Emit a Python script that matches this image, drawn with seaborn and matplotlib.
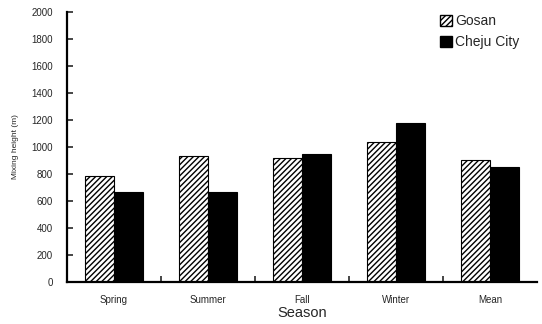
import matplotlib
matplotlib.use("Agg")
import matplotlib.pyplot as plt
import seaborn as sns
import pandas as pd
from matplotlib.patches import Patch

seasons = ["Spring", "Summer", "Fall", "Winter", "Mean"]
gosan = [785, 930, 915, 1040, 905]
cheju = [670, 665, 945, 1175, 850]
yticks = [0, 200, 400, 600, 800, 1000, 1200, 1400, 1600, 1800, 2000]

df = pd.DataFrame({
    "Season": seasons * 2,
    "height": gosan + cheju,
    "site": ["Gosan"] * len(seasons) + ["Cheju City"] * len(seasons),
})

sns.set_theme(style="ticks")
plt.rcParams["font.family"] = ["Liberation Sans", "DejaVu Sans"]
plt.rcParams["hatch.linewidth"] = 1.0

fig = plt.figure(figsize=(5.42, 3.24), dpi=100)
ax = fig.add_axes([0.1236, 0.1296, 0.867, 0.8334])

sns.barplot(data=df, x="Season", y="height", hue="site",
            palette={"Gosan": "white", "Cheju City": "black"},
            width=0.62, gap=0, edgecolor="black", linewidth=0.8,
            legend=False, ax=ax)

# hatch the Gosan bars
for bar in ax.containers[0]:
    bar.set_hatch("//////")

ax.set_xlim(-0.5, 4.5)
ax.set_ylim(0, 2000)
ax.set_yticks(yticks)
ax.set_yticklabels([str(v) for v in yticks], fontsize=7)
ax.set_xticks([0.5, 1.5, 2.5, 3.5], minor=False)
ax.set_xticklabels([])
ax.set_xticks(range(len(seasons)), minor=True)
ax.set_xticklabels(seasons, minor=True, fontsize=7)
ax.tick_params(axis="x", which="major", direction="in", length=4, width=1.2)
ax.tick_params(axis="x", which="minor", length=0, pad=9)
ax.tick_params(axis="y", direction="in", length=4, width=1.2, pad=10)

for side in ["top", "right"]:
    ax.spines[side].set_visible(False)
for side in ["left", "bottom"]:
    ax.spines[side].set_linewidth(1.6)
    ax.spines[side].set_color("black")

ax.set_xlabel("Season", fontsize=10.5, labelpad=1)
ax.set_ylabel("Mixing height (m)", fontsize=6, labelpad=9)

handles = [Patch(facecolor="white", edgecolor="black", hatch="//////", label="Gosan"),
           Patch(facecolor="black", edgecolor="black", label="Cheju City")]
ax.legend(handles=handles, loc="upper left", bbox_to_anchor=(0.78, 1.017),
          frameon=False, fontsize=10, handlelength=0.8, handleheight=0.8,
          handletextpad=0.25, labelspacing=0.5, borderpad=0.0)

fig.savefig("out.png", dpi=100)
